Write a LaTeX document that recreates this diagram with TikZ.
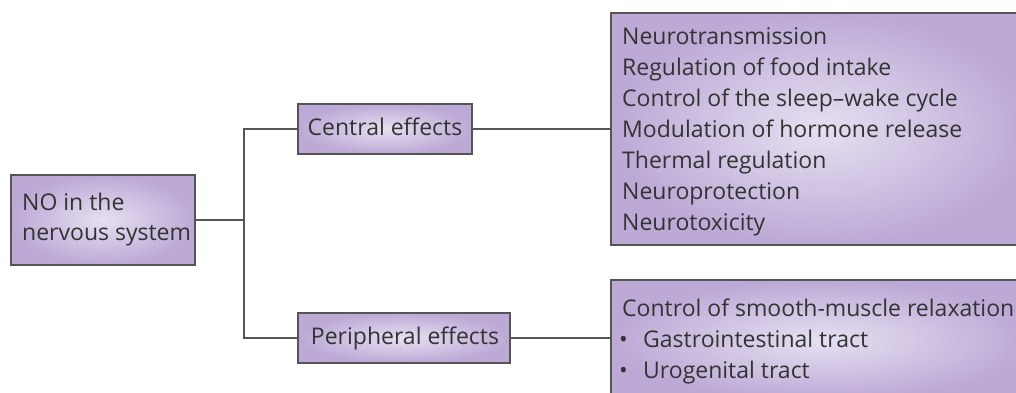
\documentclass[tikz,border=0pt]{standalone}
\usepackage{fontspec}
\setmainfont{Open Sans}
\definecolor{boxout}{HTML}{BCA9D6}
\definecolor{boxin}{HTML}{E6E0F1}
\definecolor{edge}{HTML}{555555}
\definecolor{ink}{HTML}{333333}
\tikzset{
  box/.style={draw=edge, line width=1.2pt, rectangle, inner sep=0pt,
    shading=radial, inner color=boxin, outer color=boxout},
  label/.style={text=ink, font=\fontsize{23}{31}\selectfont, inner sep=0pt, anchor=base west},
  clabel/.style={text=ink, font=\fontsize{23}{31}\selectfont, inner sep=0pt, anchor=base},
  conn/.style={draw=edge, line width=1.2pt}
}
\begin{document}
\begin{tikzpicture}[x=1pt,y=-1pt]
\useasboundingbox (0,0) rectangle (1016,392);
\clip (0,0) rectangle (1016,392);
% boxes
\node[box, minimum width=184pt, minimum height=90pt] (no) at (103,220) {};
\node[box, minimum width=174pt, minimum height=50pt] (central) at (385,129) {};
\node[box, minimum width=212pt, minimum height=50pt] (peripheral) at (404,338) {};
\node[box, minimum width=420pt, minimum height=232pt] (cfx) at (821,129) {};
\node[box, minimum width=420pt, minimum height=120pt] (pfx) at (821,340) {};
% texts
\node[label] (no1) at (22,210) {NO in the};
\node[label] (no2) at (22,240) {nervous system};
\node[clabel] (ctext) at (385,135) {Central effects};
\node[clabel] (ptext) at (405,344) {Peripheral effects};
\foreach \t [count=\i] in {Neurotransmission,Regulation of food intake,Control of the sleep--wake cycle,Modulation of hormone release,Thermal regulation,Neuroprotection,Neurotoxicity}
  \node[label] (cfx\i) at (622,{44+31*(\i-1)}) {\t};
\node[label] (pfx1) at (622,316) {Control of smooth-muscle relaxation};
\node[label] (pfxb1) at (619,347) {•};
\node[label] (pfx2) at (643,347) {Gastrointestinal tract};
\node[label] (pfxb2) at (619,378) {•};
\node[label] (pfx3) at (643,378) {Urogenital tract};
% connectors
\coordinate (trunk) at (244,0);
\draw[conn] (no.east) -- (no.east -| trunk);
\draw[conn] (central.west) -- (central.west -| trunk) |- (peripheral.west);
\draw[conn] (central.east) -- (central.east -| cfx.west);
\draw[conn] (peripheral.east) -- (peripheral.east -| pfx.west);
\end{tikzpicture}
\end{document}
